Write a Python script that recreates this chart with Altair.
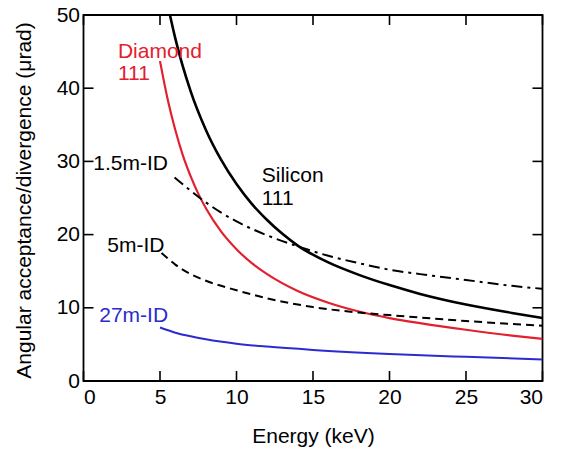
import altair as alt
import pandas as pd

# ---- data ----
si_E = [5.65, 6, 7, 8, 9, 10, 11, 12, 13, 14, 16, 18, 20, 22, 25, 28, 30]
si_v = [50.0, 46.8, 39.6, 34.3, 30.2, 26.9, 24.2, 22.0, 20.1, 18.5, 16.2, 14.5, 13.1, 11.9, 10.45, 9.3, 8.6]

di_E = [5, 5.5, 6, 6.5, 7, 7.5, 8, 9, 10, 11, 12, 14, 16, 18, 20, 22, 25, 28, 30]
di_v = [43.7, 38.5, 34.3, 30.8, 28.0, 25.6, 23.6, 20.4, 18.0, 16.1, 14.6, 12.3, 10.7, 9.5, 8.6, 7.9, 7.0, 6.2, 5.75]

id15_E = [5.95, 7, 8, 9, 10, 12, 14, 16, 18, 20, 22, 25, 28, 30]
id15_v = [27.8, 26.0, 24.4, 23.0, 21.8, 19.9, 18.4, 17.1, 16.1, 15.2, 14.6, 13.8, 13.0, 12.6]

id5_E = [5.1, 6, 7, 8, 10, 12, 15, 18, 20, 25, 30]
id5_v = [17.5, 15.9, 14.6, 13.7, 12.4, 11.3, 10.1, 9.35, 9.0, 8.2, 7.55]

id27_E = [5.0, 6, 7, 8, 10, 12, 15, 20, 25, 30]
id27_v = [7.3, 6.6, 6.1, 5.7, 5.1, 4.7, 4.25, 3.7, 3.3, 2.95]

x_ticks = [0, 5, 10, 15, 20, 25, 30]
y_ticks = [0, 10, 20, 30, 40, 50]

# annotation labels: text, left-edge energy, value, colour
lab_text = ["Diamond", "111", "Silicon", "111", "1.5m-ID", "5m-ID", "27m-ID"]
lab_E = [2.25, 2.25, 11.65, 11.65, 0.64, 1.56, 1.03]
lab_v = [45.0, 42.0, 27.95, 24.85, 29.6, 18.5, 8.86]
lab_col = ["#e2202e", "#e2202e", "black", "black", "black", "black", "#2b2bd0"]

W, H = 459, 366
FONT = "Liberation Sans"
RED = "#e2202e"
BLUE = "#2b2bd0"
FS = 21

xs = alt.Scale(domain=[0, 30], nice=False)
ys = alt.Scale(domain=[0, 50], nice=False)


def series(E, v):
    return pd.DataFrame({"E": E, "v": v})


def line(df, color, width, dash=None):
    kw = dict(color=color, strokeWidth=width, clip=True, interpolate="monotone")
    if dash:
        kw["strokeDash"] = dash
    return alt.Chart(df).mark_line(**kw).encode(
        x=alt.X("E:Q", scale=xs,
                axis=alt.Axis(values=x_ticks, title="Energy (keV)", grid=False, domain=False,
                              tickSize=0, labelFontSize=FS, labelPadding=5, labelColor="black",
                              labelFont=FONT, titleFont=FONT, titleFontSize=FS,
                              titleFontWeight="normal", titleColor="black",
                              titleBaseline="middle", titleY=55, titleX=W / 2)),
        y=alt.Y("v:Q", scale=ys,
                axis=alt.Axis(values=y_ticks, title="Angular acceptance/divergence (\u03bcrad)",
                              grid=False, domain=False, tickSize=0, labelFontSize=FS,
                              labelPadding=4, labelColor="black", labelFont=FONT,
                              titleFont=FONT, titleFontSize=FS, titleFontWeight="normal",
                              titleColor="black", titleAngle=-90, titleBaseline="middle",
                              titleAlign="center", titleX=-59, titleY=185)),
    )


si = line(series(si_E, si_v), "black", 2.6)
di = line(series(di_E, di_v), RED, 2.2)
l15 = line(series(id15_E, id15_v), "black", 2, [11, 5, 3, 5])
l5 = line(series(id5_E, id5_v), "black", 2, [8, 5])
l27 = line(series(id27_E, id27_v), BLUE, 2)

xt = pd.DataFrame({"t": x_ticks})
yt = pd.DataFrame({"t": y_ticks})
TL = 10
tick_kw = dict(color="black", strokeWidth=1.6)
bt = alt.Chart(xt).mark_rule(**tick_kw).encode(x=alt.X("t:Q", scale=xs), y=alt.value(H), y2=alt.value(H - TL))
tt = alt.Chart(xt).mark_rule(**tick_kw).encode(x=alt.X("t:Q", scale=xs), y=alt.value(0), y2=alt.value(TL))
lt = alt.Chart(yt).mark_rule(**tick_kw).encode(y=alt.Y("t:Q", scale=ys), x=alt.value(0), x2=alt.value(TL))
rt = alt.Chart(yt).mark_rule(**tick_kw).encode(y=alt.Y("t:Q", scale=ys), x=alt.value(W), x2=alt.value(W - TL))

labs = pd.DataFrame({"text": lab_text, "E": lab_E, "v": lab_v, "c": lab_col})
text = alt.Chart(labs).mark_text(align="left", baseline="middle", font=FONT, fontSize=FS).encode(
    x=alt.X("E:Q", scale=xs), y=alt.Y("v:Q", scale=ys), text="text:N",
    color=alt.Color("c:N", scale=None))

chart = alt.layer(si, di, l15, l5, l27, bt, tt, lt, rt, text).properties(
    width=W, height=H,
    autosize=alt.AutoSizeParams(type="none"),
    padding={"left": 83.5, "top": 15, "right": 21.5, "bottom": 69},
    background="white",
).configure_view(stroke="black", strokeWidth=1.8)

chart.save("out.html", embed_options={"renderer": "svg", "actions": False})
